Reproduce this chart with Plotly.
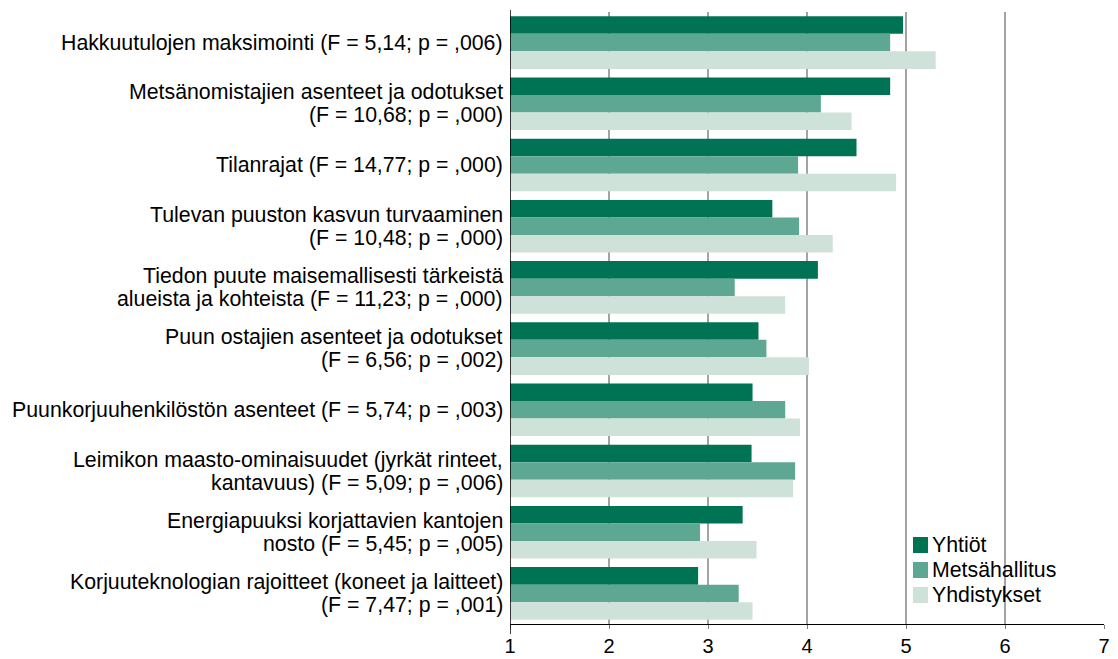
import plotly.graph_objects as go

categories = [
    "Hakkuutulojen maksimointi (F = 5,14; p = ,006)",
    "Metsänomistajien asenteet ja odotukset<br>(F = 10,68; p = ,000)",
    "Tilanrajat (F = 14,77; p = ,000)",
    "Tulevan puuston kasvun turvaaminen<br>(F = 10,48; p = ,000)",
    "Tiedon puute maisemallisesti tärkeistä<br>alueista ja kohteista (F = 11,23; p = ,000)",
    "Puun ostajien asenteet ja odotukset<br>(F = 6,56; p = ,002)",
    "Puunkorjuuhenkilöstön asenteet (F = 5,74; p = ,003)",
    "Leimikon maasto-ominaisuudet (jyrkät rinteet,<br>kantavuus) (F = 5,09; p = ,006)",
    "Energiapuuksi korjattavien kantojen<br>nosto (F = 5,45; p = ,005)",
    "Korjuuteknologian rajoitteet (koneet ja laitteet)<br>(F = 7,47; p = ,001)",
]

yhtiot = [4.97, 4.84, 4.50, 3.65, 4.11, 3.51, 3.45, 3.44, 3.35, 2.90]
metsahallitus = [4.84, 4.14, 3.91, 3.92, 3.27, 3.59, 3.78, 3.88, 2.92, 3.31]
yhdistykset = [5.30, 4.45, 4.90, 4.26, 3.78, 4.02, 3.93, 3.86, 3.49, 3.45]

series_names = ["Yhtiöt", "Metsähallitus", "Yhdistykset"]
series_values = [yhtiot, metsahallitus, yhdistykset]
series_colors = ["#007355", "#5ea893", "#cfe2da"]

x_ticks = [1, 2, 3, 4, 5, 6, 7]

FONT = "Liberation Sans, Arial, sans-serif"
FS = 21.3

W, H = 1110, 651
L, R, T, B = 502, 14, 4, 35
plot_h = H - T - B

fig = go.Figure()
for name, vals, color in zip(series_names, series_values, series_colors):
    fig.add_trace(go.Bar(
        y=categories, x=[v - 1 for v in vals], base=1, name=name,
        orientation="h", marker=dict(color=color, line=dict(width=0)),
        showlegend=False,
    ))

annotations = []
for cat in categories:
    lines = cat.split("<br>")
    n = len(lines)
    for i, line in enumerate(lines):
        shift = (n - 1) / 2 * 23 - i * 23
        annotations.append(dict(
            x=0, xref="paper", y=cat, yref="y", xanchor="right", yanchor="middle",
            text=line, showarrow=False, xshift=-5, yshift=shift,
            font=dict(family=FONT, size=FS, color="black"),
        ))

# legend built as real text entries inside the plot
leg_x_px = 905 - L
leg_y0_px = 537
shapes = []
for i, (name, color) in enumerate(zip(series_names, series_colors)):
    cy = leg_y0_px + i * 25
    y_paper = 1 - (cy - T) / plot_h
    x0 = leg_x_px / (W - L - R)
    x1 = (leg_x_px + 15) / (W - L - R)
    shapes.append(dict(type="rect", xref="paper", yref="paper",
                       x0=x0, x1=x1, y0=y_paper - 8 / plot_h, y1=y_paper + 8 / plot_h,
                       fillcolor=color, line=dict(width=0), layer="above"))
    annotations.append(dict(x=(leg_x_px + 17) / (W - L - R), xref="paper", y=y_paper,
                            yref="paper", xanchor="left", yanchor="middle",
                            text=name, showarrow=False,
                            font=dict(family=FONT, size=FS, color="black")))

# left axis line extending slightly below the bottom axis
shapes.append(dict(type="line", xref="x", yref="paper", x0=1, x1=1,
                   y0=-10 / plot_h, y1=1 + 2 / plot_h,
                   line=dict(color="black", width=1.5), layer="above"))

fig.update_layout(
    width=W, height=H,
    margin=dict(l=L, r=R, t=T, b=B, autoexpand=False),
    barmode="group", bargap=0.14, bargroupgap=0,
    plot_bgcolor="white", paper_bgcolor="white",
    font=dict(family=FONT, size=FS, color="black"),
    showlegend=False,
    annotations=annotations,
    shapes=shapes,
    xaxis=dict(range=[1, 7], tickvals=x_ticks,
               showgrid=True, gridcolor="#a3a3a3", gridwidth=1.6,
               showline=True, linecolor="black", linewidth=1.4,
               ticks="outside", ticklen=4, tickcolor="#808080", tickwidth=1.4,
               ticklabelstandoff=0,
               zeroline=False, tickfont=dict(size=20), automargin=False),
    yaxis=dict(autorange="reversed", showline=False, ticks="", showgrid=False,
               showticklabels=False, automargin=False),
)

fig.write_html("out.html")
